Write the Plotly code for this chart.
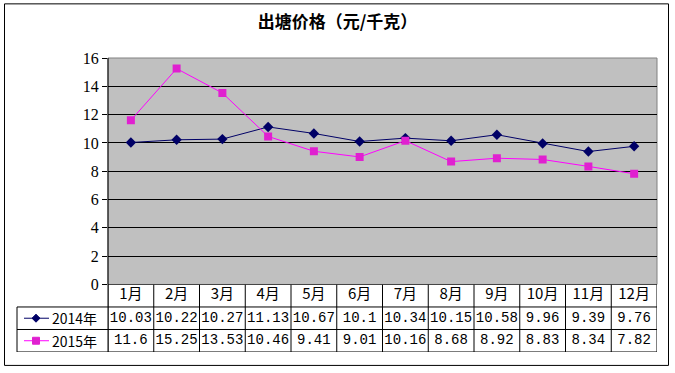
import plotly.graph_objects as go

months = ["1月", "2月", "3月", "4月", "5月", "6月", "7月", "8月", "9月", "10月", "11月", "12月"]
series_names = ["2014年", "2015年"]
values_2014 = [10.03, 10.22, 10.27, 11.13, 10.67, 10.1, 10.34, 10.15, 10.58, 9.96, 9.39, 9.76]
values_2015 = [11.6, 15.25, 13.53, 10.46, 9.41, 9.01, 10.16, 8.68, 8.92, 8.83, 8.34, 7.82]
y_ticks = [0, 2, 4, 6, 8, 10, 12, 14, 16]
title_text = "出塘价格（元/千克）"

W, H = 675, 373
L, R_px = 108, 657          # plot area left/right in px
T_px, B_px = 58, 354        # plot top / table bottom
PLOT_BOTTOM = 286
plot_w = R_px - L
plot_h = B_px - T_px

def px_x(px):
    return (px - L) / plot_w

def px_y(py):
    return (B_px - py) / plot_h

split = px_y(PLOT_BOTTOM)

c2014 = "#000066"
c2015 = "#ff00ff"
m2015 = "#e020d0"
cjk = "Noto Sans CJK SC"

fig = go.Figure()

fig.add_trace(go.Scatter(x=months, y=values_2014, mode="lines+markers", name=series_names[0],
                         line=dict(color=c2014, width=1),
                         marker=dict(symbol="diamond", size=8, color=c2014),
                         xaxis="x", yaxis="y", showlegend=False))
fig.add_trace(go.Scatter(x=months, y=values_2015, mode="lines+markers", name=series_names[1],
                         line=dict(color=c2015, width=1),
                         marker=dict(symbol="square", size=8, color=m2015),
                         xaxis="x", yaxis="y", showlegend=False))

def fmt(v):
    return str(v)

# table text
fig.add_trace(go.Scatter(x=months, y=[2.5] * len(months), mode="text", text=months,
                         textfont=dict(family=cjk, size=15, color="black"),
                         xaxis="x", yaxis="y2", showlegend=False, hoverinfo="skip"))
fig.add_trace(go.Scatter(x=months, y=[1.5] * len(months), mode="text", text=[fmt(v) for v in values_2014],
                         textfont=dict(family="Liberation Mono", size=14, color="black"),
                         xaxis="x", yaxis="y2", showlegend=False, hoverinfo="skip"))
fig.add_trace(go.Scatter(x=months, y=[0.5] * len(months), mode="text", text=[fmt(v) for v in values_2015],
                         textfont=dict(family="Liberation Mono", size=14, color="black"),
                         xaxis="x", yaxis="y2", showlegend=False, hoverinfo="skip"))

shapes = []
# gray plot background
shapes.append(dict(type="rect", xref="paper", yref="paper", x0=0, x1=1, y0=split, y1=1,
                   fillcolor="#c0c0c0", line=dict(color="#808080", width=1), layer="below"))
# left axis line
shapes.append(dict(type="line", xref="paper", yref="paper", x0=0, x1=0, y0=0, y1=1,
                   line=dict(color="black", width=1)))
# table horizontal lines
shapes.append(dict(type="line", xref="paper", yref="y2", x0=0, x1=1, y0=3, y1=3, line=dict(color="black", width=1)))
for yy in [2, 1, 0]:
    shapes.append(dict(type="line", xref="paper", yref="y2", x0=px_x(17), x1=1, y0=yy, y1=yy,
                       line=dict(color="black", width=1)))
# table vertical lines
for i in range(len(months) + 1):
    shapes.append(dict(type="line", xref="x", yref="y2", x0=i - 0.5, x1=i - 0.5, y0=0, y1=3,
                       line=dict(color="black", width=1)))
shapes.append(dict(type="line", xref="paper", yref="y2", x0=px_x(17), x1=px_x(17), y0=0, y1=2,
                   line=dict(color="black", width=1)))
# outer border
shapes.append(dict(type="rect", xref="paper", yref="paper", x0=px_x(4.5), x1=px_x(668.5),
                   y0=px_y(367.5), y1=px_y(3.5), line=dict(color="black", width=1)))

# legend keys in table
for row, col in [(1.5, c2014), (0.5, c2015)]:
    shapes.append(dict(type="line", xref="paper", yref="y2", x0=px_x(24), x1=px_x(49), y0=row, y1=row,
                       line=dict(color=col, width=1)))

annotations = []
for row, name in [(1.5, series_names[0]), (0.5, series_names[1])]:
    annotations.append(dict(xref="paper", yref="y2", x=px_x(50), y=row, text=name, showarrow=False,
                            xanchor="left", yanchor="middle", font=dict(family=cjk, size=14, color="black")))

# legend marker glyphs
cy1 = B_px - (1.5 / 3) * (B_px - PLOT_BOTTOM)
cy2 = B_px - (0.5 / 3) * (B_px - PLOT_BOTTOM)
shapes.append(dict(type="path", xref="paper", yref="paper",
                   path=f"M {px_x(36)} {px_y(cy1-4)} L {px_x(40)} {px_y(cy1)} L {px_x(36)} {px_y(cy1+4)} L {px_x(32)} {px_y(cy1)} Z",
                   fillcolor=c2014, line=dict(color=c2014, width=1)))
shapes.append(dict(type="rect", xref="paper", yref="paper", x0=px_x(32.5), x1=px_x(39.5),
                   y0=px_y(cy2 + 3.5), y1=px_y(cy2 - 3.5), fillcolor=m2015, line=dict(color=m2015, width=1)))

fig.update_layout(
    width=W, height=H,
    margin=dict(l=L, r=W - R_px, t=T_px, b=H - B_px),
    paper_bgcolor="white", plot_bgcolor="white",
    title=dict(text=title_text, x=0.5, xanchor="center", y=1 - 22 / H, yanchor="middle",
               font=dict(family=cjk, size=17, color="black", weight="bold")),
    xaxis=dict(type="category", range=[-0.5, len(months) - 0.5], showticklabels=False, showgrid=False,
               zeroline=False, showline=False, ticks="", anchor="y"),
    yaxis=dict(domain=[split, 1], range=[0, 16], tickvals=y_ticks, showgrid=True, gridcolor="black",
               gridwidth=1, zeroline=False, showline=False, ticks="outside", ticklen=5, tickcolor="black",
               tickfont=dict(family="Liberation Serif", size=16, color="black"), anchor="x"),
    yaxis2=dict(domain=[0, split], range=[0, 3], showticklabels=False, showgrid=False, zeroline=False,
                showline=False, ticks="", anchor="x"),
    shapes=shapes, annotations=annotations,
    hovermode=False,
)

fig.write_html("out.html", config={"displayModeBar": False},
               post_script="document.body.style.margin='0';")
